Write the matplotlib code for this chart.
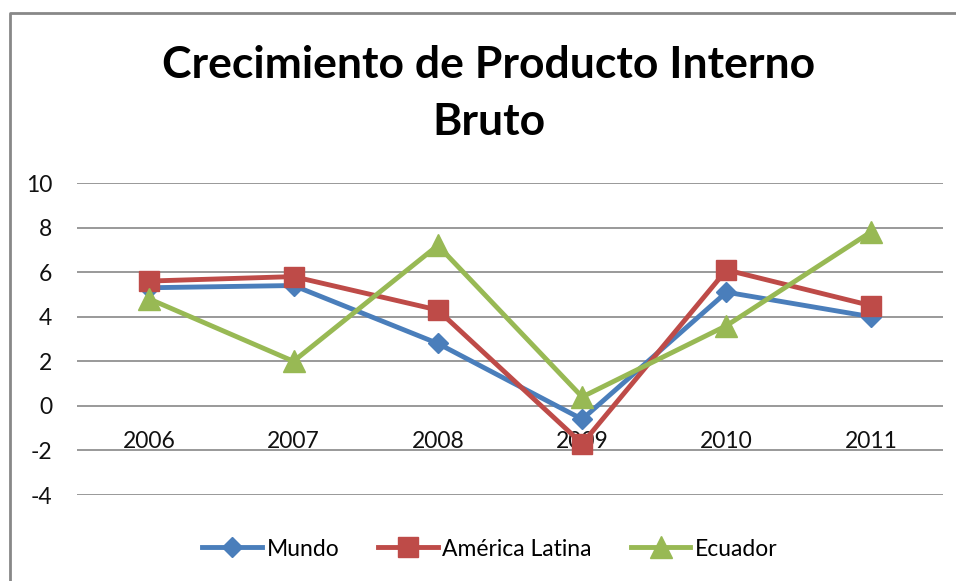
import matplotlib.pyplot as plt
from matplotlib.lines import Line2D

years = ['2006', '2007', '2008', '2009', '2010', '2011']
mundo = [5.3, 5.4, 2.8, -0.6, 5.1, 4.0]
america_latina = [5.6, 5.8, 4.3, -1.7, 6.1, 4.5]
ecuador = [4.8, 2.0, 7.2, 0.4, 3.6, 7.8]

plt.rcParams['font.family'] = ['Lato', 'DejaVu Sans']
plt.rcParams['axes.unicode_minus'] = False

W, H = 956, 581
fig = plt.figure(figsize=(W / 100, H / 100), dpi=100)
ax = fig.add_axes([77 / W, 86 / H, 866 / W, 312 / H])

x = range(len(years))
ax.plot(x, mundo, color='#4A7EBB', lw=3.5, marker='D', ms=10, label='Mundo')
ax.plot(x, america_latina, color='#BE4B48', lw=3.5, marker='s', ms=14,
        label='América Latina')
ax.plot(x, ecuador, color='#98B954', lw=3.5, marker='^', ms=16, label='Ecuador')

ax.set_xlim(-0.5, len(years) - 0.5)
ax.set_ylim(-4, 10)
ax.set_yticks(range(-4, 11, 2))
ax.yaxis.grid(True, color='#888888', lw=1.2)
ax.set_axisbelow(True)
for s in ['top', 'right', 'left']:
    ax.spines[s].set_visible(False)
ax.spines['bottom'].set_position(('data', 0))
ax.spines['bottom'].set_color('none')
ax.set_xticks(list(x))
ax.set_xticklabels(years)
ax.tick_params(axis='x', length=0, pad=18, labelsize=16.5, colors='#111111')
ax.tick_params(axis='y', length=0, pad=18, labelsize=16.5, colors='#111111')

ax.legend(loc='center', bbox_to_anchor=(490 / W, 1 - 549 / H),
          bbox_transform=fig.transFigure, ncol=3, frameon=False, fontsize=16.5,
          handlelength=2.6, handletextpad=0.2, columnspacing=1.7)

fig.text(489 / W, 1 - 65 / H, 'Crecimiento de Producto Interno', ha='center',
         va='center', fontsize=32, fontweight='bold')
fig.text(489 / W, 1 - 122 / H, 'Bruto', ha='center', va='center',
         fontsize=32, fontweight='bold')

# chart frame (left and top edges only visible)
fig.add_artist(Line2D([9.5 / W, 9.5 / W, 1], [0, 1 - 12.5 / H, 1 - 12.5 / H],
                      transform=fig.transFigure, color='#888888', lw=2))

fig.savefig('out.png', dpi=100)
